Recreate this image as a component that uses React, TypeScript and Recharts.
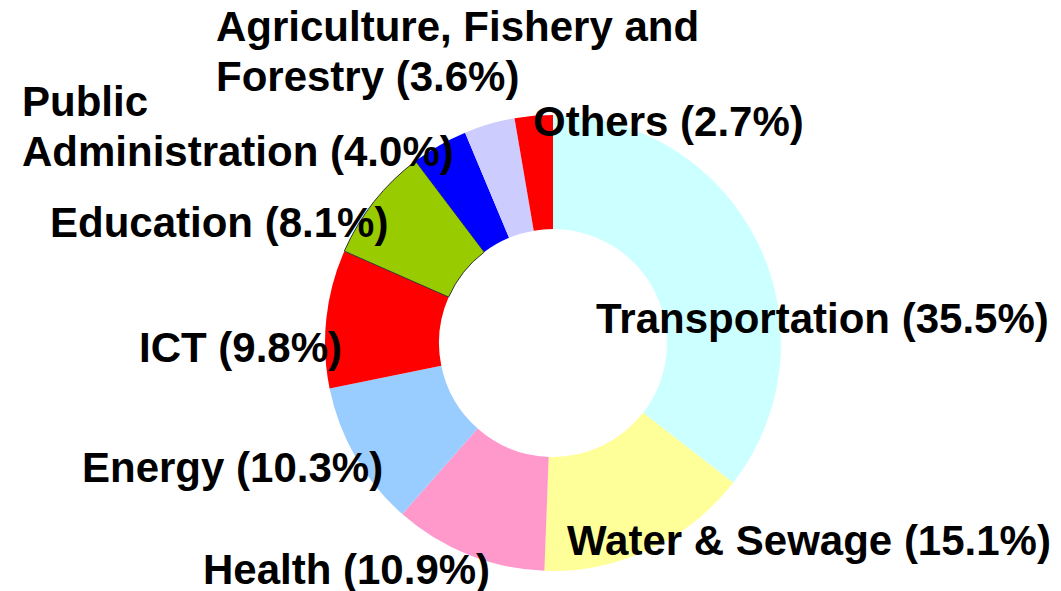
import { PieChart, Pie, Cell } from 'recharts';

// sector shares, clockwise from 12 o'clock
const sectors = [
  'Transportation',
  'Water & Sewage',
  'Health',
  'Energy',
  'ICT',
  'Education',
  'Public Administration',
  'Agriculture, Fishery and Forestry',
  'Others',
];
const shares = [35.5, 15.1, 10.9, 10.3, 9.8, 8.1, 4.0, 3.6, 2.7];
// how each label is broken into lines
const labelLines = [
  ['Transportation (35.5%)'],
  ['Water & Sewage (15.1%)'],
  ['Health (10.9%)'],
  ['Energy (10.3%)'],
  ['ICT (9.8%)'],
  ['Education (8.1%)'],
  ['Public', 'Administration (4.0%)'],
  ['Agriculture, Fishery and', 'Forestry (3.6%)'],
  ['Others (2.7%)'],
];

const colors = ['#CCFFFF', '#FFFF99', '#FF99CC', '#99CCFF', '#FF0000', '#99CC00', '#0000FF', '#CCCCFF', '#FF0000'];

// where each label sits (left x, first baseline y, line step)
const labelPos = [
  { x: 596, y: 333 },
  { x: 567, y: 555 },
  { x: 203, y: 584 },
  { x: 82, y: 482 },
  { x: 139, y: 362 },
  { x: 50, y: 237 },
  { x: 22, y: 116 },
  { x: 216, y: 41 },
  { x: 533, y: 136 },
];
const lineStep = 50;

const data = sectors.map((name, i) => ({ name, value: shares[i] }));

const renderLabel = (props: any) => {
  const i = props.index;
  const pos = labelPos[i];
  return (
    <text
      key={`lbl-${i}`}
      x={pos.x}
      y={pos.y}
      fill="#000"
      fontSize={42}
      fontWeight="bold"
      fontFamily="'Liberation Sans', Arial, sans-serif"
      textAnchor="start"
    >
      {labelLines[i].map((line, j) => (
        <tspan key={j} x={pos.x} y={pos.y + j * lineStep}>
          {line}
        </tspan>
      ))}
    </text>
  );
};

export default function App() {
  return (
    <div style={{ position: 'absolute', left: 0, top: 0, width: 1061, height: 591, background: '#fff' }}>
      <PieChart width={1061} height={591} margin={{ top: 0, right: 0, bottom: 0, left: 0 }}>
        <Pie
          data={data}
          dataKey="value"
          nameKey="name"
          cx={553}
          cy={343}
          innerRadius={114}
          outerRadius={228}
          startAngle={90}
          endAngle={-270}
          label={renderLabel}
          labelLine={false}
          isAnimationActive={false}
        >
          {data.map((d, i) => (
            <Cell
              key={d.name}
              fill={colors[i]}
              stroke={d.name === 'Education' ? '#333' : 'none'}
              strokeWidth={1}
            />
          ))}
        </Pie>
      </PieChart>
    </div>
  );
}
